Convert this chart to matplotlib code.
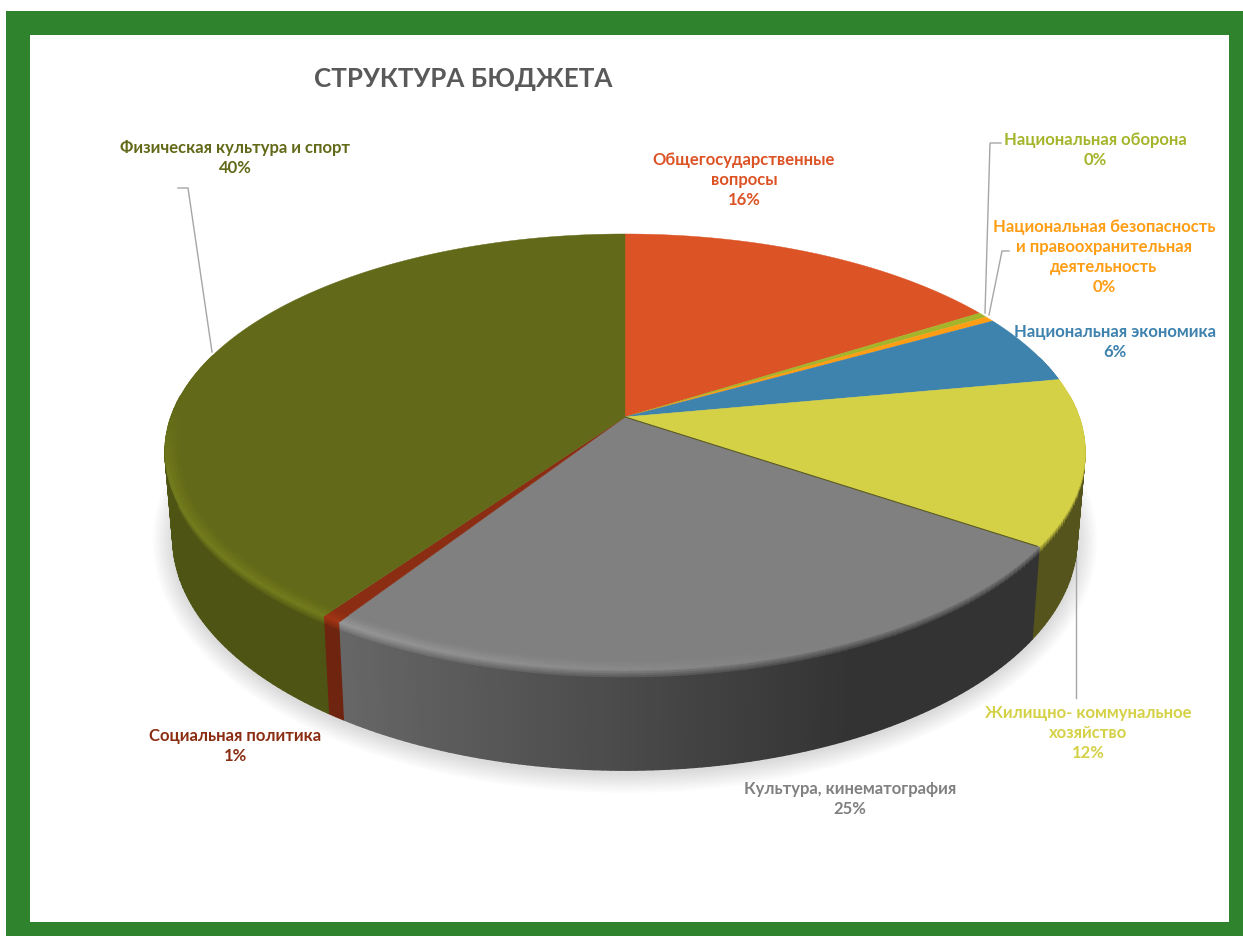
import numpy as np
import matplotlib
matplotlib.use("Agg")
import matplotlib.pyplot as plt
from matplotlib.collections import PolyCollection
from matplotlib.colors import to_rgb
from matplotlib.patches import Rectangle

plt.rcParams['font.family'] = ['Lato', 'Open Sans', 'DejaVu Sans']

# data, clockwise from 12 o'clock
categories = ["Общегосударственные\nвопросы", "Национальная оборона",
              "Национальная безопасность\nи правоохранительная\nдеятельность",
              "Национальная экономика", "Жилищно- коммунальное\nхозяйство",
              "Культура, кинематография", "Социальная политика",
              "Физическая культура и спорт"]
values = [16.1, 0.4, 0.4, 5.2, 12.3, 24.8, 0.6, 40.2]
pct_labels = ["16%", "0%", "0%", "6%", "12%", "25%", "1%", "40%"]
colors = ["#dc5325", "#a5b52b", "#ff9e14", "#3e82ae", "#d5d146", "#808080", "#8a2d12", "#626918"]
title = "СТРУКТУРА БЮДЖЕТА"

# label centres in pixels
label_pos = [(744, 179), (1095, 149), (1104, 256), (1115, 341), (1088, 732), (850, 798), (235, 745), (235, 157)]
# leader lines
leaders = [[(1001, 143), (990, 143), (985, 313)],
           [(1009, 251), (1002, 251), (989, 315)],
           [(1076, 698), (1076, 557)],
           [(178, 188), (188, 188), (212, 352)]]

# perspective of the disc
cx, cy = 625, 417
rx, ry, k = 454, 212.4, 0.1605
drop_x, drop_y, drop = 0.983, 1.064, 84


def top_pt(frac, r=1.0):
    t = 2 * np.pi * np.asarray(frac)
    u, v = r * np.sin(t), r * np.cos(t)
    den = 1 + k * v
    return cx + rx * u / den, cy - ry * v / den


def bot_pt(frac):
    x, y = top_pt(frac)
    return cx + drop_x * (x - cx), cy + drop_y * (y - cy) + drop


def wall_shade(x):
    return 0.8 - 0.4 * np.clip((x - 340) / 510, 0, 1)


def rim_colors(base, frac):
    # returns highlight colour and wall colour for one angle
    x, _ = top_pt(frac)
    v = np.cos(2 * np.pi * frac)
    w = np.clip((0.05 - v) / 0.3, 0, 1)
    light = 1.18 - 0.18 * np.clip((x - 340) / 500, 0, 1)
    hi = np.clip(base * (1 + (light - 1) * w), 0, 1)
    return hi, base * wall_shade(x)


fig = plt.figure(figsize=(12.43, 9.37), dpi=100, facecolor="white")
ax = fig.add_axes([0, 0, 1, 1])
ax.set_xlim(0, 1243)
ax.set_ylim(936, -1)
ax.axis("off")

ax.add_patch(Rectangle((6, 11), 1237, 926, fc="#30832d", ec="none", zorder=0))
ax.add_patch(Rectangle((30.5, 35), 1198.5, 886.5, fc="white", ec="none", zorder=0.5))

# soft shadow
ff = np.linspace(0, 1, 241)
bx, by = bot_pt(ff)
for i in range(12):
    d = 1 + 19 * i / 11
    ax.fill(cx + (bx - cx) * (1 + d / 450), 540 + (by - 540) * (1 + d / 232) + 3,
            color="black", alpha=0.011, lw=0, zorder=1)

edges = np.concatenate([[0], np.cumsum(values)]) / np.sum(values)
wall_t = np.array([0, 0.02, 0.04, 0.06, 0.08, 0.12, 1.0])
ring_r = np.array([0.968, 0.976, 0.984, 0.992, 1.0])

for i, col in enumerate(colors):
    base = np.array(to_rgb(col))
    n = max(2, int((edges[i + 1] - edges[i]) * 400))
    fr = np.linspace(edges[i], edges[i + 1], n + 1)

    # side wall
    polys, cols = [], []
    for a, b in zip(fr[:-1], fr[1:]):
        if np.cos(2 * np.pi * (a + b) / 2) > 0.1:
            continue
        hi, wall = rim_colors(base, (a + b) / 2)
        ta, tb = np.array(top_pt(a)), np.array(top_pt(b))
        ba, bb = np.array(bot_pt(a)), np.array(bot_pt(b))
        for t0, t1 in zip(wall_t[:-1], wall_t[1:]):
            polys.append([ta + t0 * (ba - ta), tb + t0 * (bb - tb), tb + t1 * (bb - tb), ta + t1 * (ba - ta)])
            m = min((t0 + t1) / 2 / 0.1, 1)
            cols.append(hi + (wall - hi) * m)
    if polys:
        ax.add_collection(PolyCollection(polys, facecolors=cols, edgecolors=cols, linewidths=1.0, zorder=2))

    # top face
    x, y = top_pt(fr)
    ax.fill(np.r_[cx, x], np.r_[cy, y], color=col, lw=0.3, zorder=3)

    # lit rim of the top face
    polys, cols = [], []
    for a, b in zip(fr[:-1], fr[1:]):
        if np.cos(2 * np.pi * (a + b) / 2) > 0.3:
            continue
        hi, _ = rim_colors(base, (a + b) / 2)
        for r0, r1 in zip(ring_r[:-1], ring_r[1:]):
            polys.append([top_pt(a, r0), top_pt(b, r0), top_pt(b, r1), top_pt(a, r1)])
            m = ((r0 + r1) / 2 - ring_r[0]) / (ring_r[-1] - ring_r[0])
            cols.append(base + (hi - base) * m)
    if polys:
        ax.add_collection(PolyCollection(polys, facecolors=cols, edgecolors=cols, linewidths=0.5, zorder=4))

# thin dark seam between yellow and gray slices
sx, sy = top_pt(edges[5], 0.995)
ax.plot([cx, sx], [cy, sy], color="#5c5c22", lw=0.8, zorder=5)

for pts in leaders:
    ax.plot([p[0] for p in pts], [p[1] for p in pts], color="#a6a6a6", lw=1, zorder=1.5, solid_joinstyle="miter")

for name, pct, pos, col in zip(categories, pct_labels, label_pos, colors):
    ax.text(pos[0], pos[1], name + "\n" + pct, color=col, fontsize=12, fontweight="bold",
            ha="center", va="center", multialignment="center", linespacing=1.3, zorder=6)

ax.text(463, 78, title, color="#595959", fontsize=18.7, fontweight="bold", ha="center", va="center", zorder=6)

fig.savefig("out.png", dpi=100, facecolor="white")
